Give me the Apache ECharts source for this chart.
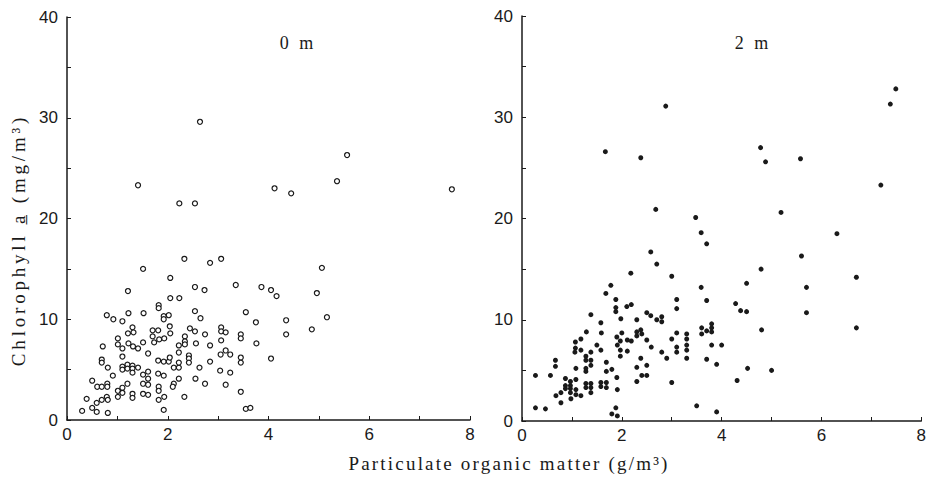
<!DOCTYPE html>
<html><head><meta charset="utf-8">
<script src="https://cdn.jsdelivr.net/npm/echarts@6/dist/echarts.min.js"></script>
<style>html,body{margin:0;padding:0;background:#fff}#c{width:929px;height:479px}</style>
</head><body><div id="c"></div>
<script>
// Panel titles and axis names
const panelTitles = ['0 m', '2 m'];
const xAxisName = 'Particulate organic matter (g/m\u00B3)';
const yAxisName = 'Chlorophyll a\u0332 (mg/m\u00B3)';
const xTickValues = [0, 2, 4, 6, 8];
const yTickValues = [0, 10, 20, 30, 40];

// 0 m: [particulate organic matter, chlorophyll a]
const surfacePoints = [
[2.64,29.6],[5.56,26.3],[1.41,23.3],[4.12,23.0],[4.45,22.5],[5.36,23.7],[7.64,22.9],[2.23,21.5],[2.54,21.5],[2.33,16.0],
[2.84,15.6],[3.06,16.0],[1.51,15.0],[5.06,15.1],[2.05,14.1],[1.21,12.8],[2.54,13.2],[2.73,12.9],[3.35,13.4],[3.86,13.2],
[4.05,12.9],[4.16,12.3],[4.96,12.6],[2.05,12.1],[2.23,12.1],[1.82,11.4],[1.82,11.1],[2.54,10.8],[2.65,10.1],[3.55,10.7],
[3.75,9.7],[3.76,7.6],[0.79,10.4],[0.92,10.0],[1.10,9.8],[1.22,10.6],[1.52,10.6],[1.92,10.3],[1.92,10.0],[2.02,10.4],
[2.04,9.3],[2.05,8.6],[1.30,9.2],[1.32,8.7],[1.21,8.6],[1.70,8.9],[1.81,8.9],[1.70,8.3],[1.83,8.0],[1.93,8.1],
[1.01,8.1],[1.01,7.5],[1.22,7.6],[1.31,7.3],[1.41,7.1],[1.51,7.7],[1.10,7.1],[0.71,7.3],[1.73,7.7],[1.61,6.6],
[1.10,6.3],[0.69,6.0],[0.69,5.7],[0.81,5.2],[0.91,4.4],[0.50,3.9],[0.60,3.3],[0.69,3.3],[0.80,3.6],[0.80,3.3],
[0.39,2.1],[0.59,1.7],[0.69,2.0],[0.79,2.3],[0.81,2.0],[0.50,1.2],[0.30,0.9],[0.59,0.8],[0.81,0.7],[1.10,5.3],
[1.10,5.0],[1.20,5.5],[1.20,5.1],[1.30,5.4],[1.30,5.1],[1.41,5.2],[1.30,4.7],[1.51,4.5],[1.61,4.1],[1.61,4.8],
[1.81,5.9],[1.92,5.8],[1.81,4.6],[1.92,4.4],[2.02,5.8],[2.04,6.2],[2.12,5.2],[2.22,5.2],[2.22,5.7],[2.22,6.7],
[2.22,7.4],[2.34,8.3],[2.34,7.8],[2.34,7.5],[2.42,6.4],[2.42,6.1],[2.42,5.7],[2.44,9.1],[2.54,8.8],[2.56,7.6],
[2.63,5.2],[2.74,8.5],[2.84,7.4],[2.84,5.8],[3.06,9.2],[3.06,8.8],[3.15,8.7],[3.06,7.9],[3.05,6.5],[3.15,6.9],
[3.24,6.5],[3.04,4.9],[3.24,4.7],[3.15,3.5],[3.45,8.5],[3.45,8.1],[3.45,6.2],[3.45,5.7],[3.45,2.8],[3.55,1.1],
[3.64,1.2],[2.22,4.1],[2.55,4.1],[2.74,3.6],[1.51,3.6],[1.61,3.5],[1.82,3.3],[1.82,2.9],[2.12,3.6],[2.10,3.3],
[1.01,2.9],[1.10,3.2],[1.10,2.7],[1.01,2.3],[1.20,3.6],[1.30,2.6],[1.30,2.2],[1.51,2.6],[1.61,2.5],[1.82,2.0],
[1.93,2.3],[2.33,2.3],[1.92,1.0],[4.35,9.9],[5.16,10.2],[4.86,9.0],[4.35,8.5],[4.05,6.1]
];

// 2 m: [particulate organic matter, chlorophyll a]
const depth2Points = [
[7.49,32.8],[7.38,31.3],[2.88,31.1],[1.67,26.6],[2.38,26.0],[4.78,27.0],[4.88,25.6],[5.58,25.9],[7.19,23.3],[2.68,20.9],
[3.48,20.1],[5.19,20.6],[3.59,18.6],[3.70,17.5],[6.31,18.5],[2.58,16.7],[2.70,15.5],[5.60,16.3],[2.18,14.6],[3.00,14.3],
[4.79,15.0],[1.78,13.4],[3.59,13.2],[4.50,13.6],[5.70,13.2],[6.70,14.2],[1.68,12.6],[1.88,12.0],[1.88,11.2],[1.88,10.8],
[2.10,11.3],[2.19,11.5],[1.98,10.1],[1.38,10.5],[1.58,9.7],[1.29,8.8],[1.59,8.7],[1.18,8.1],[1.07,7.8],[1.07,7.2],
[1.06,6.8],[1.18,7.0],[1.38,6.8],[1.50,7.5],[1.58,7.0],[1.28,6.4],[1.28,6.0],[1.38,6.0],[1.38,5.5],[1.28,5.2],
[1.28,4.9],[1.08,5.2],[0.67,6.0],[0.67,5.4],[0.27,4.5],[0.57,4.5],[0.87,4.2],[0.97,3.9],[1.08,4.1],[0.87,3.5],
[0.87,3.2],[0.97,3.5],[0.97,3.2],[0.78,2.8],[0.97,2.8],[1.08,3.1],[1.08,2.6],[0.68,2.5],[0.98,2.2],[1.18,2.5],
[0.78,1.8],[1.28,3.7],[1.28,3.3],[1.38,3.7],[1.38,3.3],[1.38,2.8],[1.58,3.8],[1.58,3.4],[1.69,3.8],[1.69,3.3],
[1.69,4.9],[1.80,5.1],[1.69,5.8],[1.90,4.3],[1.91,3.1],[0.27,1.3],[0.47,1.2],[1.80,0.7],[1.91,0.5],[1.88,1.3],
[1.90,8.3],[1.91,7.5],[1.97,7.0],[1.97,7.9],[1.97,6.4],[2.00,8.7],[2.11,8.0],[2.19,7.9],[2.11,6.9],[2.30,10.0],
[2.30,8.8],[2.30,8.4],[2.38,9.0],[2.40,8.6],[2.50,10.7],[2.58,10.4],[2.70,10.0],[2.80,10.3],[2.80,9.8],[2.50,8.0],
[2.59,7.3],[2.38,6.2],[2.30,5.3],[2.40,4.5],[2.50,5.5],[2.50,4.5],[2.30,3.9],[2.80,6.8],[2.90,6.2],[3.00,8.1],
[3.10,12.0],[3.10,11.1],[3.10,8.7],[3.10,7.3],[3.10,6.8],[3.30,8.6],[3.30,8.1],[3.30,7.5],[3.30,7.0],[3.30,6.2],
[3.00,3.8],[3.70,11.9],[3.60,9.2],[3.60,8.6],[3.70,8.9],[3.80,9.6],[3.80,9.2],[3.80,8.8],[3.80,7.5],[3.70,6.1],
[3.50,1.5],[4.28,11.6],[4.38,10.9],[4.50,10.8],[5.70,10.7],[4.80,9.0],[6.70,9.2],[4.00,7.5],[3.90,5.6],[4.52,5.2],
[5.00,5.0],[4.31,4.0],[3.90,0.9]
];

const ink = '#1a1a1a';
const tickFont = 'Liberation Sans';
const serifFont = 'Liberation Serif';

function makeX(gi) {
  return {
    type: 'value', gridIndex: gi, min: 0, max: 8, interval: 1,
    axisLine: { show: true, onZero: false, lineStyle: { color: ink, width: 1.5 } },
    axisTick: { show: true, inside: true, length: 4, lineStyle: { color: ink, width: 1 } },
    axisLabel: { color: ink, fontFamily: tickFont, fontSize: 17, margin: 6,
      formatter: v => xTickValues.includes(v) ? String(v) : '' },
    splitLine: { show: false }
  };
}
function makeY(gi) {
  return {
    type: 'value', gridIndex: gi, min: 0, max: 40, interval: 5,
    axisLine: { show: true, onZero: false, lineStyle: { color: ink, width: 1.5 } },
    axisTick: { show: true, inside: true, length: 4, lineStyle: { color: ink, width: 1 } },
    axisLabel: { color: ink, fontFamily: tickFont, fontSize: 17, margin: 9,
      formatter: v => yTickValues.includes(v) ? String(v) : '' },
    splitLine: { show: false }
  };
}

const chart = echarts.init(document.getElementById('c'), null, { renderer: 'svg' });
chart.setOption({
  animation: false,
  backgroundColor: '#fff',
  grid: [
    { left: 67, top: 17, width: 403, height: 403 },
    { left: 522, top: 16, width: 400, height: 405 }
  ],
  xAxis: [makeX(0), makeX(1)],
  yAxis: [makeY(0), makeY(1)],
  series: [
    { type: 'scatter', xAxisIndex: 0, yAxisIndex: 0, data: surfacePoints, symbol: 'circle', symbolSize: 5,
      itemStyle: { color: '#fff', borderColor: ink, borderWidth: 1.2, opacity: 1 } },
    { type: 'scatter', xAxisIndex: 1, yAxisIndex: 1, data: depth2Points, symbol: 'circle', symbolSize: 5,
      itemStyle: { color: ink, opacity: 1 } }
  ],
  graphic: [
    { type: 'text', x: 298, y: 43, style: { text: panelTitles[0], font: '18px "' + serifFont + '"', fill: ink,
        align: 'center', verticalAlign: 'middle' } },
    { type: 'text', x: 753, y: 43, style: { text: panelTitles[1], font: '18px "' + serifFont + '"', fill: ink,
        align: 'center', verticalAlign: 'middle' } },
    { type: 'text', x: 509, y: 463, style: { text: xAxisName, font: '19px "' + serifFont + '"', fill: ink,
        align: 'center', verticalAlign: 'middle' } },
    { type: 'text', x: 18, y: 240, rotation: Math.PI / 2, style: { text: yAxisName, font: '19px "' + serifFont + '"', fill: ink,
        align: 'center', verticalAlign: 'middle' } }
  ]
});

function spaceTitles() {
  document.querySelectorAll('#c text').forEach(t => {
    const s = t.textContent;
    if (s.indexOf('Particulate') >= 0) t.style.letterSpacing = '2.2px';
    else if (s.indexOf('Chlorophyll') >= 0) t.style.letterSpacing = '3.8px';
    else if (s === panelTitles[0] || s === panelTitles[1]) t.style.letterSpacing = '3px';
  });
}
chart.on('finished', spaceTitles);
spaceTitles();
</script>
</body></html>
